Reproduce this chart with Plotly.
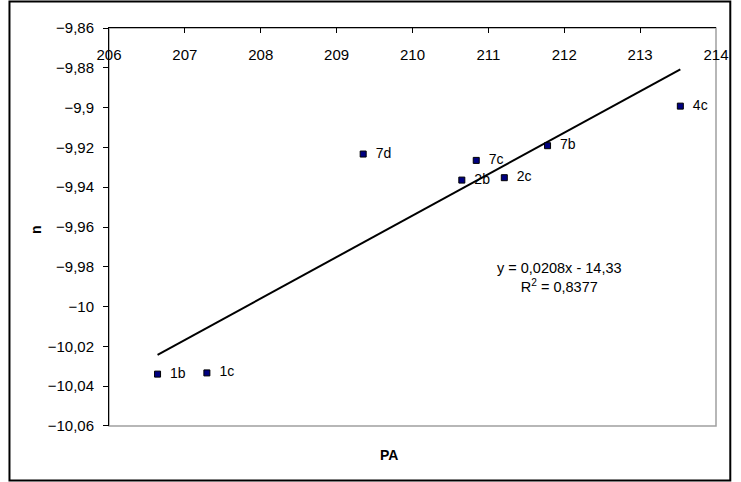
import numpy as np
import plotly.graph_objects as go

labels = ["1b", "1c", "7d", "7c", "2b", "2c", "7b", "4c"]
pa = [206.64, 207.29, 209.35, 210.84, 210.65, 211.21, 211.78, 213.53]
n = [-10.034, -10.0334, -9.9233, -9.9265, -9.9364, -9.9352, -9.9191, -9.8992]
x_ticks = [206, 207, 208, 209, 210, 211, 212, 213, 214]
y_ticks = [-9.86, -9.88, -9.9, -9.92, -9.94, -9.96, -9.98, -10.0, -10.02, -10.04, -10.06]
eq_text = "y = 0,0208x - 14,33<br>R<sup>2</sup> = 0,8377"

slope, intercept = np.polyfit(pa, n, 1)
tx = [min(pa), max(pa)]
ty = [slope * v + intercept for v in tx]

FONT = "Liberation Sans, Arial, sans-serif"
W, H = 741, 482
L, R, T, B = 109, 16, 28, 56
pw, ph = W - L - R, H - T - B


def px(xp):
    return (xp - L) / pw


def py(yp):
    return (H - B - yp) / ph


fig = go.Figure()
fig.add_trace(go.Scatter(x=tx, y=ty, mode="lines", line=dict(color="black", width=2),
                         hoverinfo="skip", showlegend=False))
fig.add_trace(go.Scatter(x=pa, y=n, mode="markers+text",
                         text=["\u00a0\u00a0" + s for s in labels],
                         textposition="middle right",
                         textfont=dict(family=FONT, size=14, color="black"),
                         marker=dict(symbol="square", size=6, color="#000080",
                                     line=dict(color="black", width=1)),
                         showlegend=False, hoverinfo="skip"))
# invisible trace to drive the tick-label axis
fig.add_trace(go.Scatter(x=[206, 214], y=[-9.9, -9.9], xaxis="x2", mode="markers",
                         marker=dict(opacity=0), showlegend=False, hoverinfo="skip"))

fig.update_layout(
    width=W, height=H, margin=dict(l=L, r=R, t=T, b=B),
    paper_bgcolor="white", plot_bgcolor="white",
    separators=", ",
    font=dict(family=FONT, size=15, color="black"),
    xaxis=dict(range=[206, 214], tickvals=x_ticks, side="top",
               ticks="inside", ticklen=5, tickcolor="black",
               showticklabels=False,
               showline=True, linecolor="black", linewidth=1,
               showgrid=False, zeroline=False),
    xaxis2=dict(range=[206, 214], tickvals=x_ticks, overlaying="x",
                anchor="free", position=py(44), side="bottom",
                ticks="", showline=False, showgrid=False, zeroline=False,
                tickfont=dict(family=FONT, size=15)),
    yaxis=dict(range=[-10.0601, -9.8599], tickvals=y_ticks,
               ticks="outside", ticklen=5, tickcolor="black",
               ticklabelstandoff=6,
               showline=True, linecolor="black", linewidth=1,
               showgrid=False, zeroline=False,
               tickfont=dict(family=FONT, size=15)),
)

# plot area gray border (right/bottom)
fig.add_shape(type="rect", xref="paper", yref="paper", x0=0, x1=1, y0=0, y1=1,
              line=dict(color="#a0a0a0", width=1.5), layer="below")
# outer chart border
fig.add_shape(type="rect", xref="paper", yref="paper",
              x0=px(8), x1=px(739.5), y0=py(480.5), y1=py(1.5),
              line=dict(color="black", width=2))

fig.add_annotation(text="<b>PA</b>", xref="paper", yref="paper",
                   x=px(393), y=py(455), showarrow=False,
                   xanchor="center", yanchor="middle",
                   font=dict(family=FONT, size=14))
fig.add_annotation(text="<b>n</b>", xref="paper", yref="paper",
                   x=px(35), y=py(230), showarrow=False,
                   xanchor="center", yanchor="middle",
                   textangle=-90, font=dict(family=FONT, size=14))
fig.add_annotation(text=eq_text, xref="paper", yref="paper",
                   x=px(566), y=py(277), showarrow=False,
                   xanchor="center", yanchor="middle",
                   align="center", font=dict(family=FONT, size=14.5))

fig.write_html("out.html")
